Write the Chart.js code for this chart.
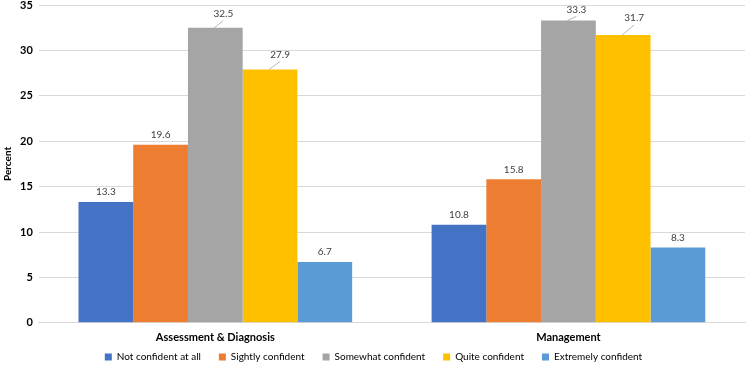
<!DOCTYPE html>
<html>
<head>
<meta charset="utf-8">
<script src="https://cdn.jsdelivr.net/npm/chart.js@4"></script>
<style>
  html, body { margin: 0; padding: 0; background: #fff; }
  #wrap { width: 750px; height: 366px; }
</style>
</head>
<body>
<div id="wrap"><canvas id="chart"></canvas></div>
<script>
// data
const categories   = ['Assessment & Diagnosis', 'Management'];
const seriesNames  = ['Not confident at all', 'Sightly confident', 'Somewhat confident', 'Quite confident', 'Extremely confident'];
const notConfident = [13.3, 10.8];
const slightly     = [19.6, 15.8];
const somewhat     = [32.5, 33.3];
const quite        = [27.9, 31.7];
const extremely    = [6.7, 8.3];
const yTicks       = [0, 5, 10, 15, 20, 25, 30, 35];

const colors = ['#4472C4', '#ED7D31', '#A5A5A5', '#FFC000', '#5B9BD5'];
const FONT = 'Lato, "Liberation Sans", sans-serif';

// labels that sit off to the side with a little leader line: [dataset][index] -> [dx, dy]
const leaders = {
  2: [[8, 14], [8, 11]],
  3: [[10, 15], [11, 17]]
};

const valueLabels = {
  id: 'valueLabels',
  afterDatasetsDraw(chart) {
    const ctx = chart.ctx;
    ctx.save();
    ctx.font = '10px ' + FONT;
    ctx.fillStyle = '#404040';
    ctx.textAlign = 'center';
    ctx.textBaseline = 'middle';
    chart.data.datasets.forEach((ds, di) => {
      const meta = chart.getDatasetMeta(di);
      meta.data.forEach((bar, i) => {
        const txt = ds.data[i].toFixed(1);
        const off = leaders[di] && leaders[di][i];
        if (off) {
          const lx = bar.x + off[0], ly = bar.y - off[1];
          ctx.strokeStyle = '#a6a6a6';
          ctx.lineWidth = 0.8;
          ctx.beginPath();
          ctx.moveTo(bar.x - 1, bar.y);
          ctx.lineTo(lx, ly + 7);
          ctx.stroke();
          ctx.fillText(txt, lx, ly);
        } else {
          ctx.fillText(txt, bar.x, bar.y - 10);
        }
      });
    });
    ctx.restore();
  }
};

// legend keeps its wide horizontal gaps but takes little vertical room
const legendNudge = {
  id: 'legendNudge',
  beforeDraw(chart) {
    const lg = chart.legend;
    if (lg) lg.top = lg.bottom - 30;
  }
};

const seriesData = [notConfident, slightly, somewhat, quite, extremely];

new Chart(document.getElementById('chart'), {
  type: 'bar',
  data: {
    labels: categories,
    datasets: seriesNames.map((name, k) => ({
      label: name,
      data: seriesData[k],
      backgroundColor: colors[k],
      borderWidth: 0,
      barPercentage: 1,
      categoryPercentage: 0.775
    }))
  },
  options: {
    responsive: true,
    maintainAspectRatio: false,
    animation: false,
    layout: { padding: { top: 0, right: 5, left: 2, bottom: 2 } },
    plugins: {
      tooltip: { enabled: false },
      legend: {
        position: 'bottom',
        maxHeight: 20,
        labels: {
          boxWidth: 7,
          boxHeight: 7,
          padding: 18,
          color: '#000',
          font: { family: FONT, size: 10 }
        }
      }
    },
    scales: {
      x: {
        grid: { display: false },
        border: { color: '#d9d9d9' },
        ticks: { color: '#000', font: { family: FONT, size: 11, weight: 'bold' }, padding: 0 }
      },
      y: {
        min: 0,
        max: 35,
        afterBuildTicks: axis => { axis.ticks = yTicks.map(v => ({ value: v })); },
        afterFit: axis => { axis.paddingTop = 5; },
        grid: { color: '#d9d9d9', drawTicks: false },
        border: { display: false },
        ticks: { color: '#000', font: { family: FONT, size: 11, weight: 'bold' }, padding: 6 },
        title: { display: true, text: 'Percent', color: '#000', font: { family: FONT, size: 10, weight: 'bold' }, padding: 0 }
      }
    }
  },
  plugins: [valueLabels, legendNudge]
});
</script>
</body>
</html>
